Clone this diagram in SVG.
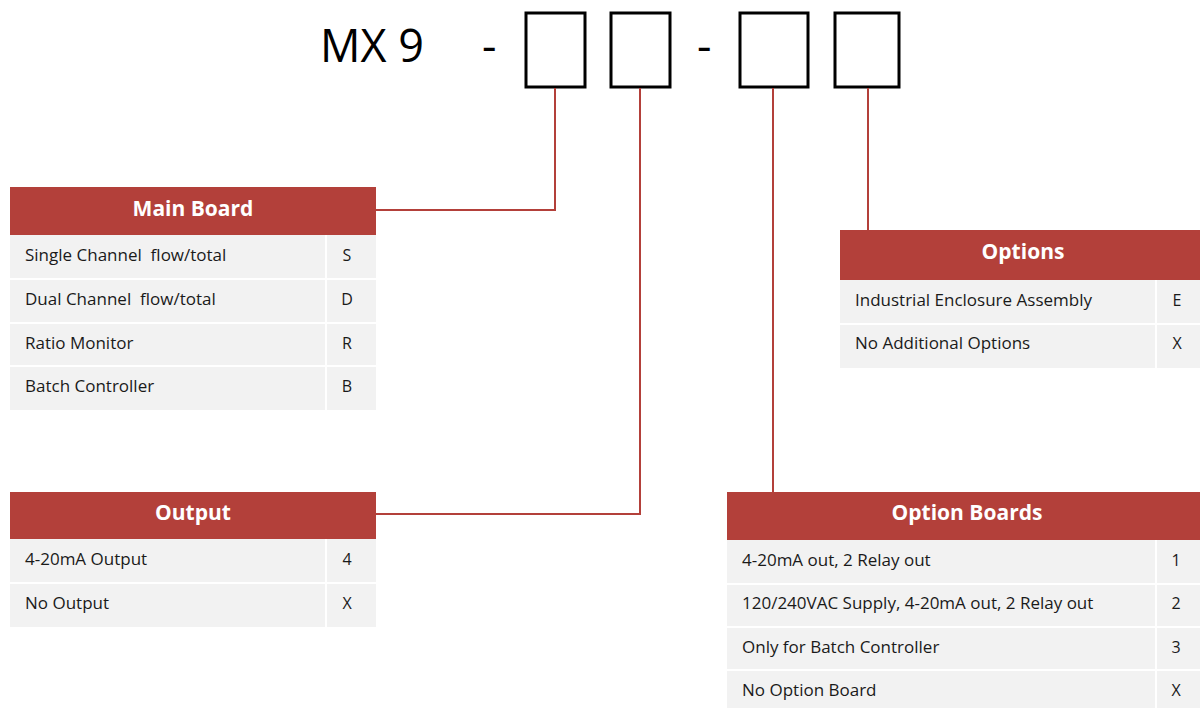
<svg xmlns="http://www.w3.org/2000/svg" width="1200" height="708" viewBox="0 0 1200 708">
<style>
.hdr{fill:#b3403a}
.row{fill:#f2f2f2}
.sep{stroke:#ffffff;stroke-width:2}
.ht{font-family:"Open Sans","Noto Sans",sans-serif;font-weight:bold;font-size:21px;fill:#ffffff;text-anchor:middle}
.rt{font-family:"Open Sans","Noto Sans",sans-serif;font-size:17px;fill:#1a1a1a;white-space:pre}
.ct{font-family:"Open Sans","Noto Sans",sans-serif;font-size:16px;fill:#1a1a1a;text-anchor:middle}
.box{fill:#ffffff;stroke:#000000;stroke-width:3}
.con{fill:none;stroke:#b3403a;stroke-width:2}
.title{font-family:"Open Sans","Noto Sans",sans-serif;font-size:45px;fill:#000000}
</style>
<rect width="1200" height="708" fill="#ffffff"/>
<g id="code">
<text class="title" x="320" y="62">MX 9</text>
<text class="title" x="482" y="62">-</text>
<text class="title" x="697" y="62">-</text>
<rect class="box" x="526" y="13" width="59" height="74"/>
<rect class="box" x="611" y="13" width="59" height="74"/>
<rect class="box" x="740" y="13" width="68" height="74"/>
<rect class="box" x="835" y="13" width="64" height="74"/>
</g>
<g id="connectors">
<polyline class="con" points="555,88 555,210 376,210"/>
<polyline class="con" points="640,88 640,514 376,514"/>
<polyline class="con" points="773,88 773,492"/>
<polyline class="con" points="868,88 868,230"/>
</g>
<g id="main-board">
<rect class="hdr" x="10" y="187" width="366" height="48"/>
<text class="ht" x="193" y="216">Main Board</text>
<rect class="row" x="10" y="235" width="366" height="175"/>
<line class="sep" x1="10" y1="279" x2="376" y2="279"/>
<line class="sep" x1="10" y1="323" x2="376" y2="323"/>
<line class="sep" x1="10" y1="366" x2="376" y2="366"/>
<line class="sep" x1="326" y1="235" x2="326" y2="410"/>
<text class="rt" x="25" y="261" xml:space="preserve">Single Channel  flow/total</text><text class="ct" x="347" y="261">S</text>
<text class="rt" x="25" y="305" xml:space="preserve">Dual Channel  flow/total</text><text class="ct" x="347" y="305">D</text>
<text class="rt" x="25" y="349">Ratio Monitor</text><text class="ct" x="347" y="349">R</text>
<text class="rt" x="25" y="392">Batch Controller</text><text class="ct" x="347" y="392">B</text>
</g>
<g id="output">
<rect class="hdr" x="10" y="492" width="366" height="47"/>
<text class="ht" x="193" y="520">Output</text>
<rect class="row" x="10" y="539" width="366" height="88"/>
<line class="sep" x1="10" y1="583" x2="376" y2="583"/>
<line class="sep" x1="326" y1="539" x2="326" y2="627"/>
<text class="rt" x="25" y="565">4-20mA Output</text><text class="ct" x="347" y="565">4</text>
<text class="rt" x="25" y="609">No Output</text><text class="ct" x="347" y="609">X</text>
</g>
<g id="options">
<rect class="hdr" x="840" y="230" width="360" height="50"/>
<text class="ht" x="1023" y="259">Options</text>
<rect class="row" x="840" y="280" width="360" height="88"/>
<line class="sep" x1="840" y1="324" x2="1200" y2="324"/>
<line class="sep" x1="1156" y1="280" x2="1156" y2="368"/>
<text class="rt" x="855" y="306">Industrial Enclosure Assembly</text><text class="ct" x="1177" y="306">E</text>
<text class="rt" x="855" y="349">No Additional Options</text><text class="ct" x="1177" y="349">X</text>
</g>
<g id="option-boards">
<rect class="hdr" x="727" y="492" width="473" height="48"/>
<text class="ht" x="967" y="520">Option Boards</text>
<rect class="row" x="727" y="540" width="473" height="168"/>
<line class="sep" x1="727" y1="584" x2="1200" y2="584"/>
<line class="sep" x1="727" y1="627" x2="1200" y2="627"/>
<line class="sep" x1="727" y1="670" x2="1200" y2="670"/>
<line class="sep" x1="1156" y1="540" x2="1156" y2="708"/>
<text class="rt" x="742" y="566">4-20mA out, 2 Relay out</text><text class="ct" x="1176" y="566">1</text>
<text class="rt" x="742" y="609">120/240VAC Supply, 4-20mA out, 2 Relay out</text><text class="ct" x="1176" y="609">2</text>
<text class="rt" x="742" y="653">Only for Batch Controller</text><text class="ct" x="1176" y="653">3</text>
<text class="rt" x="742" y="696">No Option Board</text><text class="ct" x="1176" y="696">X</text>
</g>
</svg>
